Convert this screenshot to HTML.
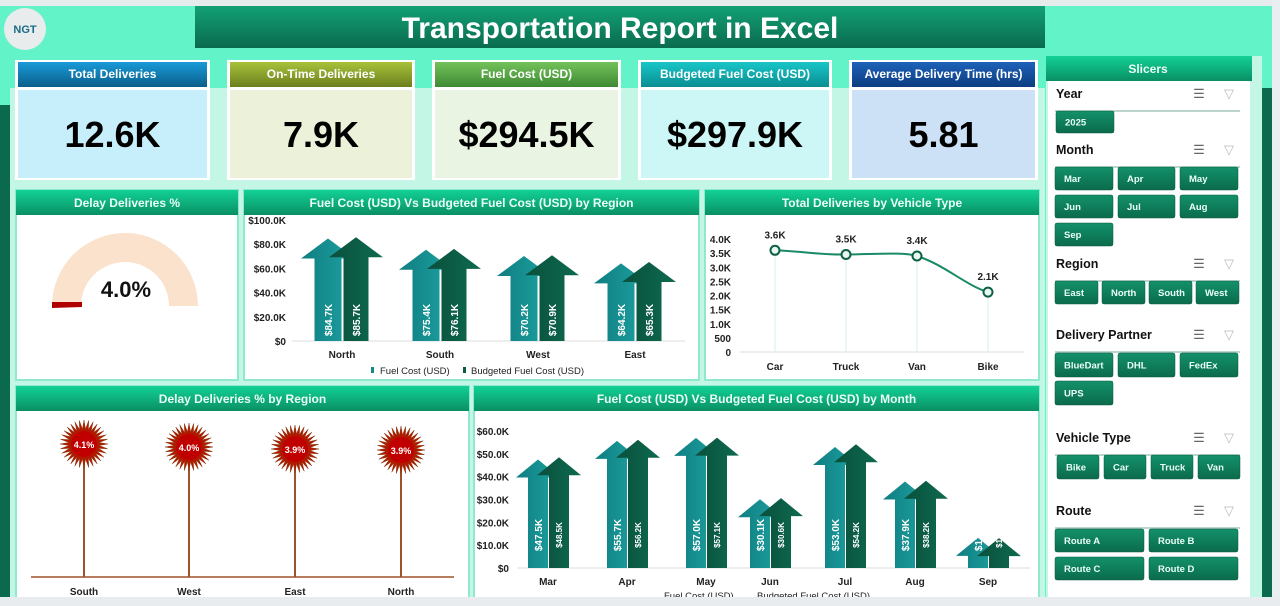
<!DOCTYPE html>
<html><head><meta charset="utf-8">
<style>
html,body{margin:0;padding:0;width:1280px;height:606px;overflow:hidden;background:#62f3c9;font-family:"Liberation Sans",sans-serif}
svg{display:block}
</style></head><body>
<svg id="s" width="1280" height="606" viewBox="0 0 1280 606" xmlns="http://www.w3.org/2000/svg" font-family="Liberation Sans, sans-serif">
<defs>
<linearGradient id="ban" x1="0" y1="0" x2="0" y2="1"><stop offset="0" stop-color="#12a074"/><stop offset="1" stop-color="#0a6b4e"/></linearGradient>
<linearGradient id="hdr" x1="0" y1="0" x2="0" y2="1"><stop offset="0" stop-color="#12d196"/><stop offset="1" stop-color="#0a8f64"/></linearGradient>
<linearGradient id="btn" x1="0" y1="0" x2="0" y2="1"><stop offset="0" stop-color="#13916a"/><stop offset="1" stop-color="#0b6b4c"/></linearGradient>
<linearGradient id="k1" x1="0" y1="0" x2="0" y2="1"><stop offset="0" stop-color="#1a9ad8"/><stop offset="1" stop-color="#0a5f8a"/></linearGradient>
<linearGradient id="k2" x1="0" y1="0" x2="0" y2="1"><stop offset="0" stop-color="#a8c23a"/><stop offset="1" stop-color="#6c7f1e"/></linearGradient>
<linearGradient id="k3" x1="0" y1="0" x2="0" y2="1"><stop offset="0" stop-color="#72c25a"/><stop offset="1" stop-color="#3f8a34"/></linearGradient>
<linearGradient id="k4" x1="0" y1="0" x2="0" y2="1"><stop offset="0" stop-color="#18c6c8"/><stop offset="1" stop-color="#0a8d92"/></linearGradient>
<linearGradient id="k5" x1="0" y1="0" x2="0" y2="1"><stop offset="0" stop-color="#1e62b8"/><stop offset="1" stop-color="#0c3d80"/></linearGradient>
<linearGradient id="fa" x1="0" y1="0" x2="1" y2="0"><stop offset="0" stop-color="#0f7d80"/><stop offset="1" stop-color="#1ea2a2"/></linearGradient>
<linearGradient id="fb" x1="0" y1="0" x2="1" y2="0"><stop offset="0" stop-color="#0a4f3c"/><stop offset="1" stop-color="#0e6b50"/></linearGradient>
</defs>
<rect x="0" y="0" width="1280" height="6" fill="#e6ecec"/>
<rect x="10" y="88" width="1035" height="510" fill="#c4f6e6"/>
<rect x="0" y="105" width="10" height="495" fill="#0b6a4e"/>
<rect x="1252" y="56" width="10" height="544" fill="#c4f6e6"/>
<rect x="1262" y="88" width="10" height="512" fill="#0b6a4e"/>
<rect x="1272" y="0" width="8" height="606" fill="#e9eef0"/>
<circle cx="25" cy="29" r="21" fill="#e9ecec"/>
<text x="25" y="33" font-size="11" font-weight="bold" fill="#1a6a8a" text-anchor="middle">NGT</text>
<rect x="195" y="6" width="850" height="42" fill="url(#ban)"/>
<text x="620" y="38" font-size="30" font-weight="bold" fill="#fff" text-anchor="middle">Transportation Report in Excel</text>
<g id="kpis"></g>
<g id="panels"></g>
<g id="charts"></g>
<g id="slicers"></g>
<rect x="0" y="597" width="1280" height="9" fill="#e8ecee"/>
</svg>
<script>
const S=document.getElementById('s'),NS='http://www.w3.org/2000/svg';
let out='';
// KPIs
const k=[[15,210,'k1','#c6eefb','Total Deliveries','12.6K'],[227,415,'k2','#ebf2d9','On-Time Deliveries','7.9K'],[432,621,'k3','#e9f5e2','Fuel Cost (USD)','$294.5K'],[638,832,'k4','#cdf7f6','Budgeted Fuel Cost (USD)','$297.9K'],[849,1038,'k5','#cce0f6','Average Delivery Time (hrs)','5.81']];
k.forEach(([a,b,g,bg,t,v])=>{out+=`<rect x="${a}" y="60" width="${b-a}" height="120" fill="#fff"/><rect x="${a+3}" y="62" width="${b-a-6}" height="25" fill="url(#${g})"/><rect x="${a+3}" y="90" width="${b-a-6}" height="88" fill="${bg}"/><text x="${(a+b)/2}" y="78" font-size="12" font-weight="bold" fill="#fff" text-anchor="middle">${t}</text><text x="${(a+b)/2}" y="147" font-size="36" font-weight="bold" fill="#000" text-anchor="middle">${v}</text>`;});
// panels
const P=[[16,190,238,380,'Delay Deliveries %'],[244,190,699,380,'Fuel Cost (USD) Vs Budgeted Fuel Cost (USD) by Region'],[705,190,1039,380,'Total Deliveries by Vehicle Type'],[16,386,469,600,'Delay Deliveries % by Region'],[474,386,1039,600,'Fuel Cost (USD) Vs Budgeted Fuel Cost (USD) by Month']];
P.forEach(([a,b,c,d,t])=>{out+=`<rect x="${a}" y="${b}" width="${c-a}" height="${d-b}" fill="#fff" stroke="#8ee9cf" stroke-width="2"/><rect x="${a}" y="${b}" width="${c-a}" height="25" fill="url(#hdr)"/><text x="${(a+c)/2}" y="${b+17}" font-size="12" font-weight="bold" fill="#eafff7" text-anchor="middle">${t}</text>`;});
// gauge
out+=`<path d="M52,306 A73,73 0 0 1 198,306 L169,306 A44,44 0 0 0 81,306 Z" fill="#fbe2cc"/><path d="M52,302 L82,302 L82,307 L52,308 Z" fill="#b00000"/><text x="126" y="297" font-size="22" font-weight="bold" fill="#111" text-anchor="middle">4.0%</text>`;
function arrow(cx,top,base,w,hw,hh,fill){return `<path d="M${cx-w/2},${base} L${cx-w/2},${top+hh} L${cx-hw/2},${top+hh} L${cx},${top} L${cx+hw/2},${top+hh} L${cx+w/2},${top+hh} L${cx+w/2},${base} Z" fill="url(#${fill})"/>`;}
// region chart
[0,20,40,60,80,100].forEach((v,i)=>{const y=341-v*1.21;out+=`<text x="286" y="${y+4}" font-size="10" font-weight="bold" fill="#222" text-anchor="end">${v?'$'+v+'.0K':'$0'}</text>`;});
out+=`<line x1="292" y1="341" x2="685" y2="341" stroke="#ddd"/>`;
[['North',342,84.7,85.7],['South',440,75.4,76.1],['West',538,70.2,70.9],['East',635,64.2,65.3]].forEach(([n,c,a,b])=>{
out+=arrow(c-14,341-a*1.21,341,27,54,20,'fa')+arrow(c+14,341-b*1.21,341,25,54,20,'fb');
out+=`<text transform="translate(${c-10},320) rotate(-90)" font-size="10" font-weight="bold" fill="#fff" text-anchor="middle">$${a}K</text><text transform="translate(${c+18},320) rotate(-90)" font-size="10" font-weight="bold" fill="#fff" text-anchor="middle">$${b}K</text><text x="${c}" y="358" font-size="10" font-weight="bold" fill="#222" text-anchor="middle">${n}</text>`;});
out+=`<rect x="371" y="367" width="3" height="6" fill="#128a8a"/><text x="380" y="374" font-size="9.5" fill="#222">Fuel Cost (USD)</text><rect x="463" y="367" width="3" height="6" fill="#0b5a44"/><text x="471" y="374" font-size="9.5" fill="#222">Budgeted Fuel Cost (USD)</text>`;
// line chart
['0','500','1.0K','1.5K','2.0K','2.5K','3.0K','3.5K','4.0K'].forEach((t,i)=>{const y=352-i*14.125;out+=`<text x="731" y="${y+4}" font-size="10" font-weight="bold" fill="#222" text-anchor="end">${t}</text>`;});
out+=`<line x1="740" y1="352" x2="1024" y2="352" stroke="#ddd"/>`;
const L=[['Car',775,3.6],['Truck',846,3.45],['Van',917,3.4],['Bike',988,2.12]];
L.forEach(([n,x,v])=>{const y=352-v*28.25;out+=`<line x1="${x}" y1="${y}" x2="${x}" y2="352" stroke="#d8efe8"/><text x="${x}" y="370" font-size="10" font-weight="bold" fill="#222" text-anchor="middle">${n}</text>`;});
out+=`<path d="M775,250.3 C810,252 820,255 846,254.5 C880,254 905,252 917,256 C945,265 965,285 988,292.1" fill="none" stroke="#1a8a68" stroke-width="2"/>`;
[['3.6K',775,250.3],['3.5K',846,254.5],['3.4K',917,256],['2.1K',988,292.1]].forEach(([t,x,y])=>{out+=`<circle cx="${x}" cy="${y}" r="4.5" fill="#e8f7f0" stroke="#0d5f45" stroke-width="2"/><text x="${x}" y="${y-12}" font-size="10" font-weight="bold" fill="#222" text-anchor="middle">${t}</text>`;});
// lollipop
out+=`<line x1="31" y1="577" x2="454" y2="577" stroke="#a0522d" stroke-width="1.5"/>`;
function burst(cx,cy){let p=[];for(let i=0;i<64;i++){const r=i%2?15:24,a=i*Math.PI/32;p.push((cx+r*Math.cos(a)).toFixed(1)+','+(cy+r*Math.sin(a)).toFixed(1));}return `<polygon points="${p.join(' ')}" fill="#b01a00" stroke="#8a3a10" stroke-width="0.5"/><circle cx="${cx}" cy="${cy}" r="13" fill="#c00000"/>`;}
[['South',84,444,'4.1%'],['West',189,447,'4.0%'],['East',295,449,'3.9%'],['North',401,450,'3.9%']].forEach(([n,x,y,t])=>{out+=`<line x1="${x}" y1="${y}" x2="${x}" y2="577" stroke="#a0522d" stroke-width="2"/>`+burst(x,y)+`<text x="${x}" y="${y+4}" font-size="9" font-weight="bold" fill="#fff" text-anchor="middle">${t}</text><text x="${x}" y="595" font-size="10" font-weight="bold" fill="#222" text-anchor="middle">${n}</text>`;});
// month chart
const ms=2.283;
[0,10,20,30,40,50,60].forEach(v=>{const y=568-v*ms;out+=`<text x="509" y="${y+4}" font-size="10" font-weight="bold" fill="#222" text-anchor="end">${v?'$'+v+'.0K':'$0'}</text>`;});
out+=`<line x1="517" y1="568" x2="1030" y2="568" stroke="#ddd"/>`;
[['Mar',548,47.5,48.5],['Apr',627,55.7,56.2],['May',706,57.0,57.1],['Jun',770,30.1,30.6],['Jul',845,53.0,54.2],['Aug',915,37.9,38.2],['Sep',988,13.2,13.1]].forEach(([n,c,a,b])=>{
out+=arrow(c-10,568-a*ms,568,20,44,18,'fa')+arrow(c+11,568-b*ms,568,20,44,18,'fb');
out+=`<text transform="translate(${c-6},535) rotate(-90)" font-size="10" font-weight="bold" fill="#fff" text-anchor="middle">$${a.toFixed(1)}K</text><text transform="translate(${c+14},535) rotate(-90)" font-size="8" font-weight="bold" fill="#fff" text-anchor="middle">$${b.toFixed(1)}K</text><text x="${c}" y="585" font-size="10" font-weight="bold" fill="#222" text-anchor="middle">${n}</text>`;});
out+=`<text x="664" y="599" font-size="9.5" fill="#222">Fuel Cost (USD)</text><text x="757" y="599" font-size="9.5" fill="#222">Budgeted Fuel Cost (USD)</text>`;
// slicers
out+=`<rect x="1046" y="56" width="206" height="544" fill="#c4f6e6"/><rect x="1046" y="56" width="206" height="25" fill="url(#hdr)"/><text x="1148" y="73" font-size="12" font-weight="bold" fill="#eafff7" text-anchor="middle">Slicers</text><rect x="1048" y="81" width="202" height="519" fill="#fff"/>`;
function sec(t,y){return `<text x="1056" y="${y}" font-size="12.5" font-weight="bold" fill="#111">${t}</text><text x="1199" y="${y}" font-size="13" fill="#666" text-anchor="middle">☰</text><text x="1229" y="${y}" font-size="13" fill="#bbb" text-anchor="middle">▽</text><line x1="1055" y1="${y+13}" x2="1240" y2="${y+13}" stroke="#7a9" stroke-width="1"/>`;}
function btn(x1,x2,y1,y2,t){return `<rect x="${x1}" y="${y1}" width="${x2-x1}" height="${y2-y1}" rx="2" fill="url(#btn)" stroke="#0a5a40" stroke-width="0.5"/><text x="${x1+9}" y="${(y1+y2)/2+3.5}" font-size="9.5" font-weight="bold" fill="#eafff7">${t}</text>`;}
out+=sec('Year',98)+btn(1056,1114,111,133,'2025');
out+=sec('Month',154);
const c3=[[1055,1113],[1118,1175],[1180,1238]];
[['Mar','Apr','May'],['Jun','Jul','Aug'],['Sep']].forEach((r,i)=>r.forEach((t,j)=>{out+=btn(c3[j][0],c3[j][1],167+i*28,190+i*28,t);}));
out+=sec('Region',268);
const c4=[[1055,1098],[1102,1145],[1149,1192],[1196,1239]];
['East','North','South','West'].forEach((t,j)=>out+=btn(c4[j][0],c4[j][1],281,304,t));
out+=sec('Delivery Partner',339);
[['BlueDart','DHL','FedEx'],['UPS']].forEach((r,i)=>r.forEach((t,j)=>{out+=btn(c3[j][0],c3[j][1],353+i*28,377+i*28,t);}));
out+=sec('Vehicle Type',442);
const c4b=[[1057,1099],[1104,1146],[1151,1193],[1198,1240]];
['Bike','Car','Truck','Van'].forEach((t,j)=>out+=btn(c4b[j][0],c4b[j][1],455,479,t));
out+=sec('Route',515);
[['Route A','Route B'],['Route C','Route D']].forEach((r,i)=>r.forEach((t,j)=>{const c=[[1055,1144],[1149,1238]][j];out+=btn(c[0],c[1],529+i*28,552+i*28,t);}));
document.getElementById('charts').innerHTML=out;
</script>
</body></html>
